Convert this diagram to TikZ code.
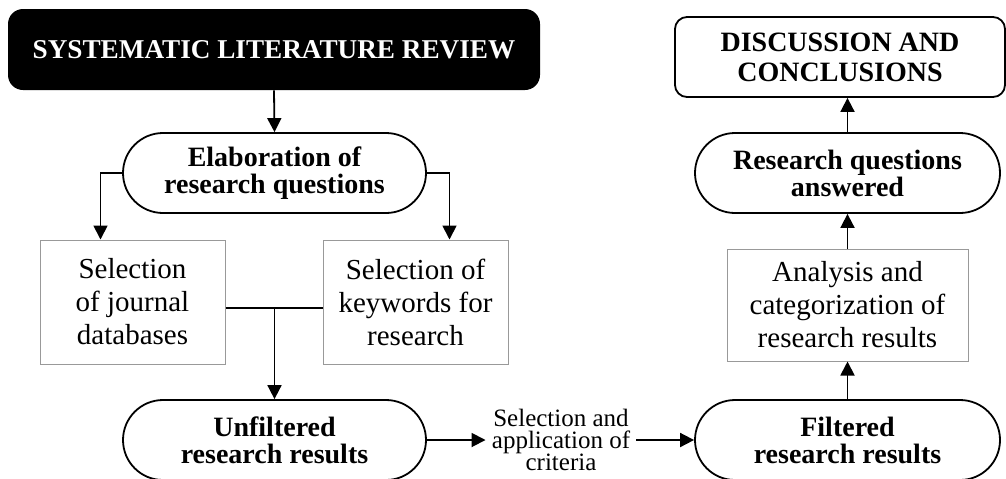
\documentclass[tikz,border=0pt]{standalone}
\usepackage{fontspec}
\setmainfont{Liberation Serif}
\usepackage{tikz}
\usetikzlibrary{positioning,arrows.meta,calc}

\tikzset{
  pill/.style={draw, line width=0.9pt, rounded corners=20pt, minimum width=151.5pt,
    minimum height=40pt, align=center, font=\fontsize{14}{13.5}\selectfont\bfseries},
  stepbox/.style={draw=gray!80, line width=0.5pt, minimum width=92.5pt,
    minimum height=62pt, align=center, font=\fontsize{14.5}{16.5}\selectfont},
  arr/.style={line width=0.9pt, -{Triangle[length=7pt,width=7pt]}}
}

\begin{document}
\begin{tikzpicture}[x=0.5pt, y=-0.5pt]
\useasboundingbox (0,0) rectangle (1006,478);

\node[fill=black, text=white, rounded corners=7.5pt, minimum width=266pt,
  minimum height=40.5pt, font=\fontsize{13.6}{14}\selectfont\bfseries]
  (slr) at (274,49.5) {SYSTEMATIC LITERATURE REVIEW};
\node[draw, line width=0.9pt, rounded corners=6pt, minimum width=165pt,
  minimum height=40pt, align=center, font=\fontsize{14}{15}\selectfont\bfseries]
  (disc) at (840,57) {DISCUSSION AND\\CONCLUSIONS};

\node[pill] (elab) at (274.5,173) {Elaboration of\\research questions};
\node[stepbox] (jdb) at (132.5,302) {Selection\\of journal\\databases};
\node[stepbox] (kw) at (415.5,302) {Selection of\\keywords for\\research};
\node[pill, minimum height=40pt] (unf) at (274.5,440) {Unfiltered\\research results};
\node[align=center, inner sep=3pt, font=\fontsize{12.5}{11}\selectfont]
  (crit) at (561,440) {Selection and\\application of\\criteria};
\node[pill, minimum width=152.5pt, minimum height=40pt] (filt) at (847.5,440)
  {Filtered\\research results};
\node[stepbox, minimum width=120.5pt, minimum height=56pt] (ana) at (847.5,305)
  {Analysis and\\categorization of\\research results};
\node[pill, minimum width=152.5pt] (rqa) at (847.5,173) {Research questions\\answered};

% left branch
\draw[arr] (slr.south) -- (elab.north);
\draw[arr] (elab.west) -| ([xshift=-16pt]jdb.north);
\draw[arr] (elab.east) -| ([xshift=17pt]kw.north);
\draw[line width=0.9pt] ([yshift=-3pt]jdb.east) -- ([yshift=-3pt]kw.west);
\coordinate (jn) at ($(unf.north |- jdb.east)+(0,6)$);
\draw[arr] (jn) -- (unf.north);
\draw[arr] (unf.east) -- (unf.east -| crit.west);
\draw[arr] (crit.east |- filt.west) -- (filt.west);

% right branch
\draw[arr] (filt.north) -- (ana.south);
\draw[arr] (ana.north) -- (rqa.south);
\draw[arr] (rqa.north) -- (rqa.north |- disc.south);
\end{tikzpicture}
\end{document}
